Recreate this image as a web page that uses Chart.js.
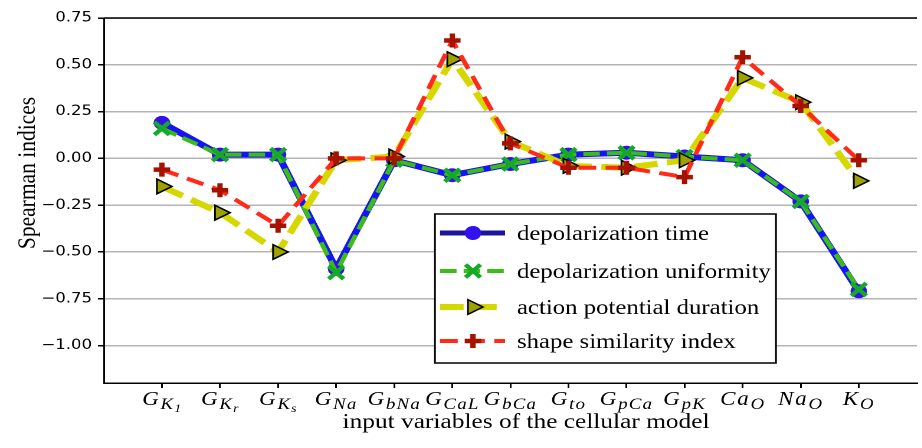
<!DOCTYPE html>
<html>
<head>
<meta charset="utf-8">
<script src="https://cdn.jsdelivr.net/npm/chart.js@4.4.1/dist/chart.umd.min.js"></script>
<style>
  html, body { margin: 0; padding: 0; background: #fff; overflow: hidden; width: 922px; height: 448px; }
  #wrap { position: absolute; left: 0; top: 0; width: 790px; height: 448px; transform: scaleX(1.18); transform-origin: 0 0; }
  canvas { display: block; width: 790px; height: 448px; }
</style>
</head>
<body>
<div id="wrap"><canvas id="c" width="790" height="448"></canvas></div>
<script>
// Input variables of the cellular model (math-style labels: base, subscript, sub-subscript)
const labelBase = ['G', 'G', 'G', 'G', 'G', 'G', 'G', 'G', 'G', 'G', 'Ca', 'Na', 'K'];
const labelSub  = ['K', 'K', 'K', 'Na', 'bNa', 'CaL', 'bCa', 'to', 'pCa', 'pK', 'O', 'O', 'O'];
const labelSub2 = ['1', 'r', 's', '', '', '', '', '', '', '', '', '', ''];

// Spearman indices per output quantity
const depolarizationTime       = [0.19, 0.02, 0.02, -0.59, -0.01, -0.09, -0.03, 0.02, 0.03, 0.01, -0.01, -0.23, -0.71];
const depolarizationUniformity = [0.16, 0.02, 0.02, -0.61, -0.01, -0.09, -0.03, 0.02, 0.03, 0.01, -0.01, -0.23, -0.70];
const actionPotentialDuration  = [-0.15, -0.29, -0.50, -0.01, 0.01, 0.53, 0.09, -0.04, -0.05, -0.01, 0.43, 0.30, -0.12];
const shapeSimilarityIndex     = [-0.06, -0.17, -0.36, 0.00, 0.00, 0.63, 0.08, -0.05, -0.05, -0.10, 0.54, 0.28, -0.01];

const seriesNames = ['depolarization time', 'depolarization uniformity', 'action potential duration', 'shape similarity index'];
const yTickValues = [-1.00, -0.75, -0.50, -0.25, 0.00, 0.25, 0.50, 0.75];
const xTitle = 'input variables of the cellular model';
const yTitle = 'Spearman indices';

const toPoints = arr => arr.map((v, i) => ({ x: i + 1, y: v }));

const styles = [
  { line: '#1414f4', legendLine: '#1c1499', width: 6, dash: [], point: 'circle', r: 6.5, fill: '#3311ee', edge: '#3311ee', bw: 1, rot: 0 },
  { line: '#3cbc14', legendLine: '#3cbc14', width: 4, dash: [14, 6], point: 'crossRot', r: 9, fill: '#14aa28', edge: '#14aa28', bw: 4, rot: 0 },
  { line: '#d7d700', legendLine: '#d7d700', width: 6, dash: [20, 8], point: 'triangle', r: 8.5, fill: '#9ea200', edge: '#000000', bw: 1.5, rot: 90 },
  { line: '#ff2a1a', legendLine: '#ff2a1a', width: 4, dash: [15, 8], point: 'cross', r: 7, fill: '#a51200', edge: '#a51200', bw: 4.5, rot: 0 }
];
const seriesData = [depolarizationTime, depolarizationUniformity, actionPotentialDuration, shapeSimilarityIndex];

const datasets = seriesData.map((vals, k) => {
  const s = styles[k];
  return {
    label: seriesNames[k],
    data: toPoints(vals),
    order: 3 - k,
    borderColor: s.line,
    borderWidth: s.width,
    borderDash: s.dash,
    borderCapStyle: 'butt',
    borderJoinStyle: 'round',
    tension: 0,
    fill: false,
    pointStyle: s.point,
    pointRadius: s.r,
    pointRotation: s.rot,
    pointBackgroundColor: s.fill,
    pointBorderColor: s.edge,
    pointBorderWidth: s.bw
  };
});

function drawMarker(ctx, s, x, y) {
  ctx.save();
  ctx.setLineDash([]);
  ctx.fillStyle = s.fill;
  ctx.strokeStyle = s.edge;
  ctx.lineWidth = s.bw;
  ctx.beginPath();
  if (s.point === 'circle') {
    ctx.arc(x, y, s.r, 0, Math.PI * 2);
    ctx.fill(); ctx.stroke();
  } else if (s.point === 'crossRot') {
    const d = s.r * Math.SQRT1_2;
    ctx.moveTo(x - d, y - d); ctx.lineTo(x + d, y + d);
    ctx.moveTo(x + d, y - d); ctx.lineTo(x - d, y + d);
    ctx.stroke();
  } else if (s.point === 'cross') {
    ctx.moveTo(x - s.r, y); ctx.lineTo(x + s.r, y);
    ctx.moveTo(x, y - s.r); ctx.lineTo(x, y + s.r);
    ctx.stroke();
  } else if (s.point === 'triangle') {
    for (let j = 0; j < 3; j++) {
      const a = j * 2 * Math.PI / 3;
      const px = x + Math.cos(a) * s.r, py = y + Math.sin(a) * s.r;
      if (j === 0) ctx.moveTo(px, py); else ctx.lineTo(px, py);
    }
    ctx.closePath();
    ctx.fill(); ctx.stroke();
  }
  ctx.restore();
}

const decorations = {
  id: 'decorations',
  afterDraw(chart) {
    const { ctx, chartArea: a, scales: { x } } = chart;
    ctx.save();
    // top spine
    ctx.strokeStyle = '#000';
    ctx.lineWidth = 1.5;
    ctx.beginPath();
    ctx.moveTo(a.left, a.top);
    ctx.lineTo(a.right, a.top);
    ctx.stroke();

    // category labels with subscripts, drawn glyph by glyph for math-style spacing
    ctx.fillStyle = '#000';
    ctx.textAlign = 'left';
    ctx.textBaseline = 'alphabetic';
    const fam = '"Liberation Serif", "Times New Roman", serif';
    const fonts = ['italic 19.5px ' + fam, 'italic 16px ' + fam, 'italic 11.5px ' + fam];
    const shifts = [0, 4, 7];
    const gaps = [1.5, 1, 0.5];
    const base = a.bottom + 22;
    labelBase.forEach((b, i) => {
      const glyphs = [];
      [b, labelSub[i], labelSub2[i]].forEach((t, lvl) => {
        for (const ch of t) {
          ctx.font = fonts[lvl];
          glyphs.push({ ch, lvl, w: ctx.measureText(ch).width + gaps[lvl] });
        }
      });
      const total = glyphs.reduce((s, g) => s + g.w, 0);
      let px = x.getPixelForValue(i + 1) - total / 2;
      glyphs.forEach(g => {
        ctx.font = fonts[g.lvl];
        ctx.fillText(g.ch, px, base + shifts[g.lvl]);
        px += g.w;
      });
    });

    // axis titles
    ctx.font = '21.5px ' + fam;
    ctx.textAlign = 'center';
    ctx.fillText(xTitle, 445.8, 428);
    ctx.save();
    ctx.translate(23.7, 173);
    ctx.rotate(-Math.PI / 2);
    ctx.textBaseline = 'middle';
    ctx.fillText(yTitle, 0, 0);
    ctx.restore();

    // legend
    const box = { l: 368.6, t: 214, r: 657.6, b: 363 };
    ctx.fillStyle = '#fff';
    ctx.fillRect(box.l, box.t, box.r - box.l, box.b - box.t);
    ctx.strokeStyle = '#000';
    ctx.lineWidth = 1.5;
    ctx.strokeRect(box.l, box.t, box.r - box.l, box.b - box.t);
    const rows = [233, 271, 307, 341];
    ctx.font = '21px ' + fam;
    ctx.textAlign = 'left';
    ctx.textBaseline = 'alphabetic';
    styles.forEach((s, k) => {
      const y = rows[k];
      ctx.save();
      ctx.strokeStyle = s.legendLine;
      ctx.lineWidth = k === 0 ? 5 : s.width;
      ctx.setLineDash(s.dash);
      ctx.beginPath();
      ctx.moveTo(372.9, y);
      ctx.lineTo(428, y);
      ctx.stroke();
      ctx.restore();
      drawMarker(ctx, s, 400.8, y);
      ctx.fillStyle = '#000';
      ctx.fillText(seriesNames[k], 438.1, y + 7);
    });
    ctx.restore();
  }
};

new Chart(document.getElementById('c'), {
  type: 'line',
  data: { datasets },
  options: {
    responsive: false,
    animation: false,
    devicePixelRatio: 2,
    layout: { padding: { top: 18, right: 1, left: 0, bottom: 0 } },
    plugins: { legend: { display: false }, tooltip: { enabled: false } },
    scales: {
      x: {
        type: 'linear',
        min: 0,
        max: 14,
        afterBuildTicks: s => { s.ticks = labelBase.map((_, i) => ({ value: i + 1 })); },
        afterFit: s => { s.height = 65; },
        ticks: { display: false },
        grid: { drawOnChartArea: false, drawTicks: true, tickLength: 5, tickColor: '#000', tickWidth: 1.5, lineWidth: 1.5, color: '#000' },
        border: { color: '#000', width: 1.5 }
      },
      y: {
        type: 'linear',
        min: -1.2,
        max: 0.75,
        afterBuildTicks: s => { s.ticks = yTickValues.map(v => ({ value: v })); },
        afterFit: s => { s.width = 88; },
        ticks: {
          color: '#000',
          padding: 5,
          font: { family: '"DejaVu Sans"', size: 14 },
          callback: v => v.toFixed(2).replace('-', '\u2212')
        },
        grid: { color: '#b4b4b4', lineWidth: 1.5, tickColor: '#000', tickLength: 5, tickWidth: 1.5 },
        border: { color: '#000', width: 1.5 }
      }
    }
  },
  plugins: [decorations]
});
</script>
</body>
</html>
